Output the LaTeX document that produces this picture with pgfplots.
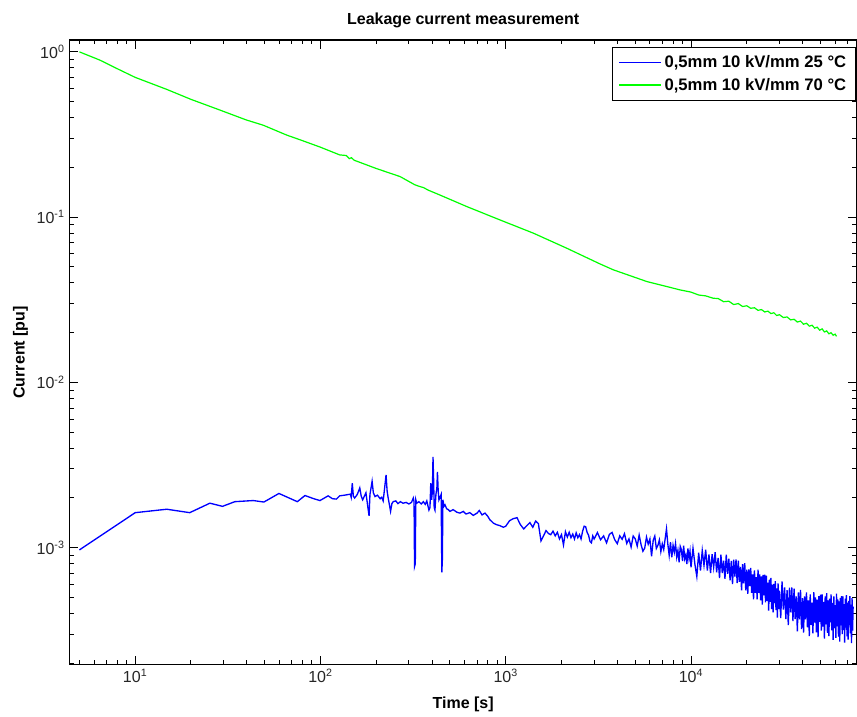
\documentclass[border=0pt]{standalone}
\usepackage{fontspec}
\setmainfont{Liberation Sans}
\usepackage{pgfplots}
\pgfplotsset{compat=1.18}
\usepackage{pgfplotstable}
\definecolor{mblue}{rgb}{0,0,1}
\definecolor{mgreen}{rgb}{0,1,0}

\pgfplotstableread{
x y
5 0.97e-3
10 1.63e-3
14.8 1.71e-3
19.7 1.63e-3
25.3 1.86e-3
29.6 1.78e-3
34.5 1.90e-3
43.4 1.93e-3
49.5 1.89e-3
59.7 2.13e-3
75 1.90e-3
82.5 2.07e-3
92 1.98e-3
99.4 1.93e-3
110 2.06e-3
116 1.98e-3
122 1.97e-3
127 2.06e-3
135 2.08e-3
145 2.11e-3
146.5 2.02e-3
148.5 2.46e-3
150.5 2.05e-3
153 2.00e-3
158 2.10e-3
163 2.30e-3
166 2.05e-3
169 1.95e-3
176 2.15e-3
181 1.70e-3
183 1.56e-3
185 2.10e-3
190 2.52e-3
193 2.15e-3
197 2.04e-3
203 2.08e-3
210 1.98e-3
214 2.02e-3
218 1.92e-3
222 2.30e-3
226 2.76e-3
229 2.20e-3
232 2.00e-3
236 1.80e-3
239 1.66e-3
243 1.85e-3
247 1.90e-3
255 1.92e-3
262 1.85e-3
270 1.90e-3
279 1.86e-3
290 1.88e-3
300 1.84e-3
310 1.88e-3
317 2.00e-3
320 1.90e-3
322 0.77e-3
325 0.80e-3
327 1.95e-3
331 1.86e-3
340 1.90e-3
350 1.84e-3
359 1.90e-3
368 1.83e-3
375 1.92e-3
385 1.69e-3
390 1.75e-3
394 2.46e-3
398 1.95e-3
402 2.20e-3
405 3.55e-3
408 2.60e-3
411 1.75e-3
415 1.69e-3
420 2.10e-3
425 2.30e-3
428 2.88e-3
432 2.20e-3
436 1.95e-3
440 2.00e-3
448 2.10e-3
452 0.71e-3
455 0.85e-3
458 1.95e-3
464 1.78e-3
470 1.82e-3
480 1.72e-3
490 1.70e-3
500 1.66e-3
520 1.70e-3
545 1.64e-3
566 1.62e-3
590 1.66e-3
610 1.60e-3
640 1.63e-3
668 1.57e-3
700 1.62e-3
720 1.68e-3
745 1.58e-3
773 1.62e-3
800 1.55e-3
820 1.48e-3
857 1.41e-3
890 1.38e-3
931 1.36e-3
971 1.33e-3
1000 1.35e-3
1050 1.46e-3
1100 1.50e-3
1150 1.52e-3
1200 1.38e-3
1250 1.30e-3
1300 1.36e-3
1350 1.42e-3
1400 1.33e-3
1450 1.45e-3
1500 1.40e-3
1550 1.10e-3
1600 1.18e-3
1650 1.27e-3
1700 1.22e-3
1750 1.20e-3
1800 1.26e-3
1850 1.18e-3
1900 1.24e-3
1950 1.13e-3
2000 1.20e-3
2050 1.04e-3
2100 1.25e-3
2150 1.16e-3
2200 1.24e-3
2250 1.15e-3
2300 1.21e-3
2350 1.13e-3
2400 1.23e-3
2450 1.15e-3
2500 1.20e-3
2550 1.13e-3
2600 1.26e-3
2650 1.35e-3
2700 1.34e-3
2750 1.24e-3
2800 1.19e-3
2850 1.09e-3
2900 1.07e-3
2950 1.18e-3
3000 1.13e-3
3125 1.235e-3
3250 1.118e-3
3375 1.179e-3
3500 1.071e-3
3625 1.204e-3
3750 1.238e-3
3875 1.119e-3
4000 1.058e-3
4125 1.181e-3
4250 1.125e-3
4375 1.216e-3
4500 1.061e-3
4625 1.131e-3
4750 1.009e-3
4875 1.177e-3
5000 1.133e-3
5125 1.023e-3
5250 1.194e-3
5375 1.046e-3
5500 0.953e-3
5625 0.994e-3
5750 1.159e-3
5875 1.051e-3
6000 1.129e-3
6125 0.889e-3
6250 1.107e-3
6375 1.176e-3
6500 0.990e-3
6625 1.033e-3
6750 1.115e-3
6875 0.948e-3
7000 1.055e-3
7125 0.976e-3
7250 1.130e-3
7375 1.300e-3
7500 1.048e-3
7625 0.900e-3
7750 1.082e-3
7875 0.874e-3
8000 1.033e-3
8125 0.940e-3
8250 1.060e-3
8375 0.878e-3
8500 0.963e-3
8625 0.817e-3
8750 1.019e-3
8875 0.974e-3
9000 0.830e-3
9125 1.030e-3
9250 0.857e-3
9375 0.905e-3
9500 0.796e-3
9625 0.989e-3
9750 0.863e-3
9875 0.951e-3
10000 0.761e-3
10250 0.993e-3
10500 0.792e-3
10750 0.670e-3
11000 0.932e-3
11250 0.727e-3
11500 0.961e-3
11750 0.782e-3
12000 0.974e-3
12250 0.728e-3
12500 0.910e-3
12750 0.702e-3
13000 0.915e-3
13250 0.761e-3
13500 0.941e-3
13750 0.709e-3
14000 0.868e-3
14250 0.656e-3
14500 0.908e-3
14750 0.703e-3
15000 0.836e-3
15250 0.649e-3
15500 0.909e-3
15750 0.696e-3
16000 0.858e-3
16250 0.636e-3
16500 0.833e-3
16750 0.603e-3
17000 0.847e-3
17250 0.668e-3
17500 0.849e-3
17750 0.611e-3
18000 0.835e-3
18250 0.622e-3
18500 0.765e-3
18750 0.552e-3
19000 0.795e-3
19250 0.608e-3
19500 0.807e-3
19750 0.552e-3
20000 0.738e-3
20250 0.527e-3
20500 0.740e-3
20750 0.586e-3
21000 0.756e-3
21250 0.534e-3
21500 0.690e-3
21750 0.487e-3
22000 0.730e-3
22250 0.534e-3
22500 0.663e-3
22750 0.488e-3
23000 0.736e-3
23250 0.534e-3
23500 0.690e-3
23750 0.480e-3
24000 0.670e-3
24250 0.453e-3
24500 0.685e-3
24750 0.516e-3
25000 0.688e-3
25250 0.467e-3
25500 0.677e-3
25750 0.477e-3
26000 0.615e-3
26250 0.416e-3
26500 0.642e-3
26750 0.471e-3
27000 0.657e-3
27250 0.425e-3
27500 0.598e-3
27750 0.406e-3
28000 0.604e-3
28250 0.463e-3
28500 0.629e-3
28750 0.420e-3
29000 0.567e-3
29250 0.378e-3
29500 0.608e-3
29750 0.426e-3
30000 0.550e-3
30500 0.375e-3
31000 0.625e-3
31500 0.422e-3
32000 0.575e-3
32500 0.370e-3
33000 0.553e-3
33500 0.340e-3
34000 0.573e-3
34500 0.406e-3
35000 0.576e-3
35500 0.360e-3
36000 0.566e-3
36500 0.370e-3
37000 0.508e-3
37500 0.312e-3
38000 0.537e-3
38500 0.369e-3
39000 0.556e-3
39500 0.322e-3
40000 0.496e-3
40500 0.307e-3
41000 0.507e-3
41500 0.369e-3
42000 0.537e-3
42500 0.330e-3
43000 0.480e-3
43500 0.292e-3
44000 0.522e-3
44500 0.341e-3
45000 0.465e-3
45500 0.303e-3
46000 0.538e-3
46500 0.352e-3
47000 0.500e-3
47500 0.308e-3
48000 0.486e-3
48500 0.288e-3
49000 0.510e-3
49500 0.356e-3
50000 0.521e-3
50500 0.315e-3
51000 0.523e-3
51500 0.333e-3
52000 0.471e-3
52500 0.282e-3
53000 0.508e-3
53500 0.344e-3
54000 0.532e-3
54500 0.305e-3
55000 0.480e-3
55500 0.292e-3
56000 0.492e-3
56500 0.354e-3
57000 0.522e-3
57500 0.316e-3
58000 0.464e-3
58500 0.277e-3
59000 0.507e-3
59500 0.326e-3
60000 0.450e-3
60500 0.285e-3
61000 0.527e-3
61500 0.335e-3
62000 0.487e-3
62500 0.290e-3
63000 0.473e-3
63500 0.270e-3
64000 0.497e-3
64500 0.339e-3
65000 0.509e-3
65500 0.300e-3
66000 0.507e-3
66500 0.318e-3
67000 0.456e-3
67500 0.267e-3
68000 0.492e-3
68500 0.329e-3
69000 0.517e-3
69500 0.291e-3
70000 0.466e-3
70500 0.278e-3
71000 0.477e-3
71500 0.340e-3
72000 0.509e-3
72500 0.303e-3
73000 0.452e-3
73500 0.265e-3
74000 0.496e-3
74500 0.315e-3
75000 0.440e-3
}\bluedata

\pgfplotstableread{
x y
5 1.00
6.44 0.892
8 0.791
10 0.701
14.8 0.593
20 0.516
28.6 0.445
39.9 0.387
49.1 0.360
65.6 0.314
77.5 0.294
100 0.265
127 0.238
138 0.236
143 0.226
147 0.229
152 0.221
200 0.197
269 0.176
323 0.157
345 0.153
360 0.151
380 0.146
442 0.136
615 0.116
931 0.0962
1410 0.0800
2133 0.0649
3230 0.0521
3810 0.0480
5770 0.0408
8730 0.0363
10000 0.0352
11000 0.0338
12000 0.0334
13200 0.0323
14000 0.0322
15000 0.0308
16000 0.0310
17000 0.0296
18000 0.0300
19000 0.0288
20000 0.0291
21000 0.0281
22000 0.0283
23000 0.0273
24000 0.0276
25000 0.0267
26000 0.0270
27000 0.0261
28000 0.0264
29000 0.0254
30000 0.0257
31500 0.0247
33000 0.0249
34500 0.0239
36000 0.0241
37500 0.0232
39000 0.0235
40500 0.0225
42000 0.0228
43500 0.0219
45000 0.0222
46500 0.0213
48000 0.0216
49500 0.0207
51000 0.0211
52500 0.0202
54000 0.0205
55500 0.0197
57000 0.0200
58500 0.0193
60000 0.0196
61000 0.0190
}\greendata

\begin{document}
\begin{tikzpicture}
\begin{axis}[
  scale only axis,
  width=591pt, height=468.75pt,
  xmode=log, ymode=log,
  xmin=4.41, xmax=7.87e4,
  ymin=1.96e-4, ymax=1.18,
  font=\fontsize{12}{14}\selectfont,
  axis line style={black, line width=1pt},
  every tick/.style={black, line width=0.75pt},
  major tick length=6.75pt,
  minor tick length=3.4pt,
  xtick={10,100,1000,10000},
  xticklabels={10\textsuperscript{1},10\textsuperscript{2},10\textsuperscript{3},10\textsuperscript{4}},
  minor xtick={5,6,7,8,9,20,30,40,50,60,70,80,90,200,300,400,500,600,700,800,900,2000,3000,4000,5000,6000,7000,8000,9000,20000,30000,40000,50000,60000,70000},
  ytick={1e-3,1e-2,1e-1,1},
  yticklabels={10\textsuperscript{-3},10\textsuperscript{-2},10\textsuperscript{-1},10\textsuperscript{0}},
  minor ytick={2e-4,3e-4,4e-4,5e-4,6e-4,7e-4,8e-4,9e-4,2e-3,3e-3,4e-3,5e-3,6e-3,7e-3,8e-3,9e-3,2e-2,3e-2,4e-2,5e-2,6e-2,7e-2,8e-2,9e-2,2e-1,3e-1,4e-1,5e-1,6e-1,7e-1,8e-1,9e-1},
  tick label style={font=\fontsize{12}{14}\selectfont, text=black!85},
  title={\bfseries Leakage current measurement},
  title style={at={(axis description cs:0.5,1.019)}, anchor=center, font=\fontsize{12}{14}\selectfont},
  xlabel={\bfseries Time [s]},
  xlabel style={at={(axis description cs:0.5,-0.064)}, anchor=center, font=\fontsize{12}{14}\selectfont},
  ylabel={\bfseries Current [pu]},
  ylabel style={at={(axis description cs:-0.062,0.5)}, anchor=center, rotate=0, font=\fontsize{12}{14}\selectfont},
  legend style={at={(0.9985,0.9888)}, anchor=north east, draw=black, line width=0.6pt,
    font=\fontsize{12.5}{14.5}\selectfont\bfseries, inner xsep=4.9pt, inner ysep=3.9pt, row sep=2.5pt},
  legend cell align=left,
  legend image code/.code={\draw[#1, line width=1pt] (0pt,0pt) -- (31.5pt,0pt);},
]
\addplot[draw=mblue, line width=1pt] table[x=x,y=y]{\bluedata};
\addlegendentry{0,5mm 10 kV/mm 25 °C}
\addplot[draw=mgreen, line width=0.9pt] table[x=x,y=y]{\greendata};
\addlegendentry{0,5mm 10 kV/mm 70 °C}
\end{axis}
\pgfresetboundingbox
\path[use as bounding box] ([xshift=-52pt,yshift=-39pt]current axis.south west) rectangle ([yshift=30pt]current axis.north east);
\end{tikzpicture}
\end{document}
